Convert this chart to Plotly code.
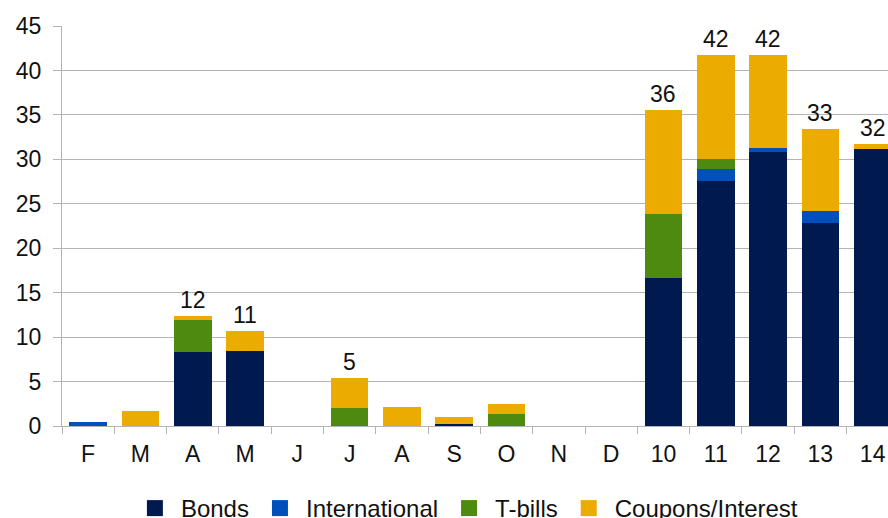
import plotly.graph_objects as go

# ---- data ----
categories = ["F", "M", "A", "M", "J", "J", "A", "S", "O", "N", "D", "10", "11", "12", "13", "14"]
bonds = [0, 0, 8.3, 8.4, 0, 0, 0, 0.2, 0, 0, 0, 16.7, 27.6, 30.8, 22.8, 31.2]
international = [0.45, 0, 0, 0, 0, 0, 0, 0, 0, 0, 0, 0, 1.3, 0.5, 1.4, 0]
tbills = [0, 0, 3.6, 0, 0, 2.0, 0, 0, 1.4, 0, 0, 7.2, 1.1, 0, 0, 0]
coupons = [0, 1.7, 0.5, 2.3, 0, 3.4, 2.1, 0.8, 1.1, 0, 0, 11.7, 11.7, 10.4, 9.2, 0.5]
total_labels = [None, None, 12, 11, None, 5, None, None, None, None, None, 36, 42, 42, 33, 32]
y_ticks = [0, 5, 10, 15, 20, 25, 30, 35, 40, 45]

series = [
    ("Bonds", bonds, "#001a50"),
    ("International", international, "#0050bb"),
    ("T-bills", tbills, "#4f8a10"),
    ("Coupons/Interest", coupons, "#ebab00"),
]

FONT = "Liberation Sans, Arial, sans-serif"
GRID = "#b3b3b3"
xpos = list(range(len(categories)))

fig = go.Figure()
for name, vals, color in series:
    fig.add_trace(go.Bar(x=xpos, y=vals, name=name, marker=dict(color=color, line=dict(width=0)),
                         width=0.72, showlegend=False))
# legend entries with square markers
for name, vals, color in series:
    fig.add_trace(go.Scatter(x=[None], y=[None], mode="markers", name=name,
                             marker=dict(symbol="square", size=17, color=color)))

totals = [b + i + t + c for b, i, t, c in zip(bonds, international, tbills, coupons)]
for x, tot, lab in zip(xpos, totals, total_labels):
    if lab is None:
        continue
    fig.add_annotation(x=x, y=tot, text=str(lab), showarrow=False, yanchor="bottom",
                       yshift=1, font=dict(family=FONT, size=23, color="#111111"))

plot_w = 888 - 62
cat_w = 52.3
fig.update_layout(
    width=888, height=518,
    barmode="stack",
    plot_bgcolor="white", paper_bgcolor="white",
    margin=dict(l=62, r=0, t=26, b=92, autoexpand=False),
    font=dict(family=FONT, size=23, color="#111111"),
    legend=dict(orientation="h", traceorder="normal", x=0.081, xanchor="left", y=-0.15, yanchor="top",
                font=dict(family=FONT, size=24, color="#111111"), itemwidth=42,
                bgcolor="rgba(0,0,0,0)"),
    xaxis=dict(
        range=[-0.5, -0.5 + plot_w / cat_w], automargin=False,
        tickmode="array", tickvals=xpos, ticktext=categories,
        ticks="", showgrid=False, showline=True, linecolor=GRID, linewidth=1,
        ticklabelstandoff=7, zeroline=False,
        minor=dict(tickmode="linear", tick0=-0.5, dtick=1, ticks="outside",
                   ticklen=7, tickcolor=GRID, tickwidth=1, showgrid=False),
    ),
    yaxis=dict(
        range=[0, 45], tickmode="array", tickvals=y_ticks, automargin=False,
        showgrid=True, gridcolor=GRID, gridwidth=1,
        showline=True, linecolor=GRID, linewidth=1,
        ticks="outside", ticklen=8, tickcolor=GRID,
        ticklabelstandoff=7, zeroline=False,
    ),
)

fig.write_html("out.html", config={"displayModeBar": False},
               post_script="document.body.style.margin='0';document.body.style.overflow='hidden';")
